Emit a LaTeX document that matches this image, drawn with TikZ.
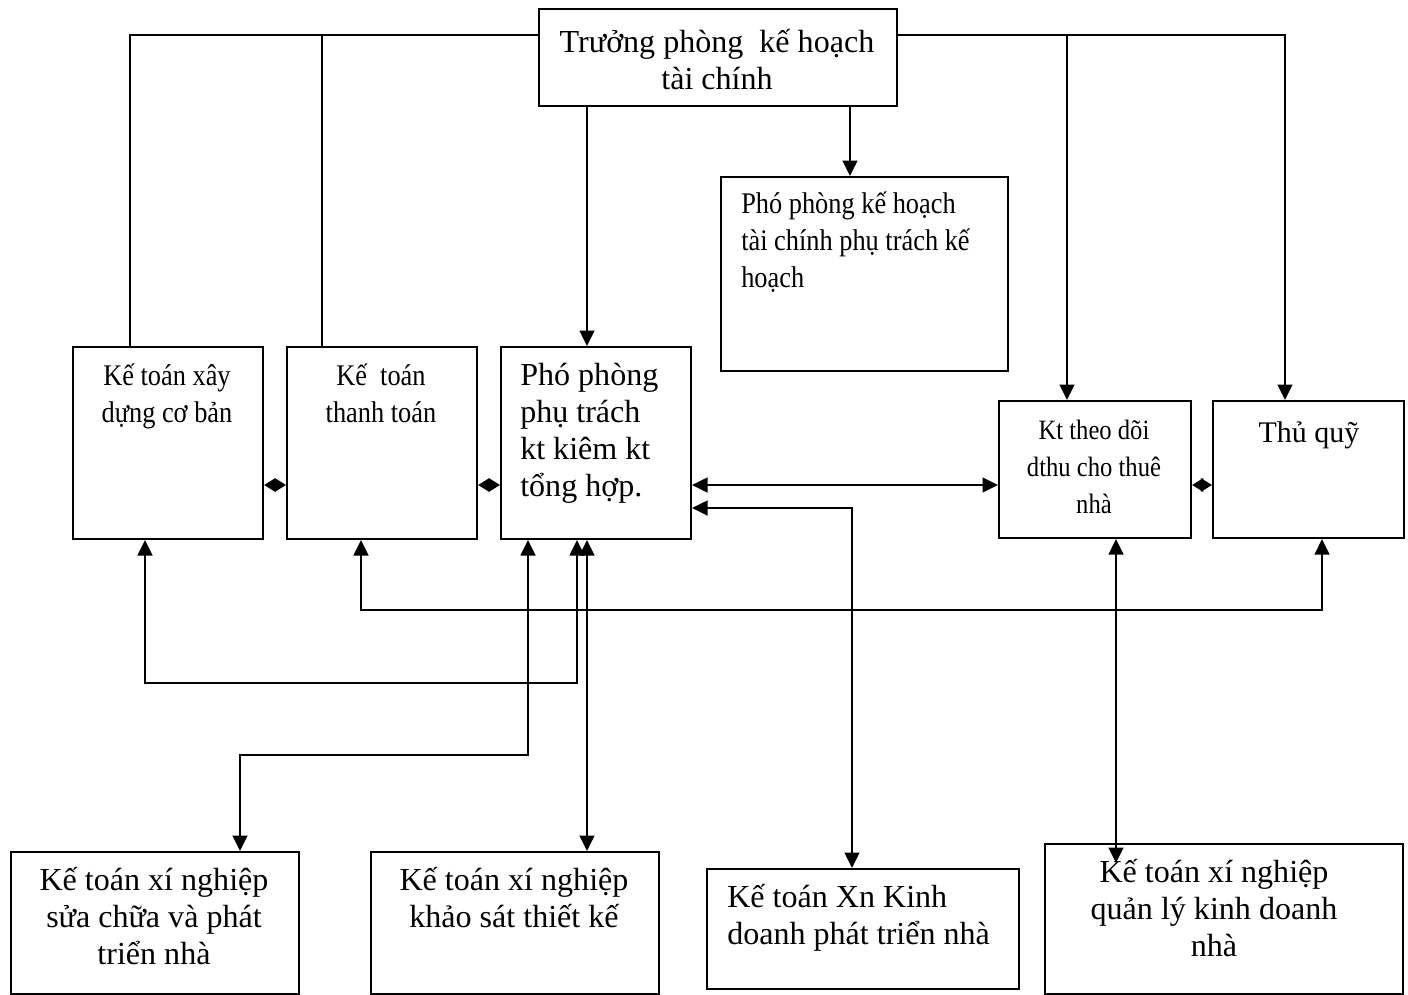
\documentclass[tikz,border=0pt]{standalone}
\usepackage{fontspec}
\setmainfont{Liberation Serif}
\newfontfamily\narrowfont[FakeStretch=0.88]{Liberation Serif}
\usetikzlibrary{arrows.meta}

\newcommand\pxu{0.025cm}

\tikzset{
  box/.style 2 args={draw, line width=1.5pt, rectangle, inner sep=0pt, anchor=north west,
    minimum width=#1*\pxu, minimum height=#2*\pxu},
  txt/.style={inner sep=0pt, align=center, anchor=base, font=\fontsize{22.8}{26.3}\selectfont},
  txtl/.style={inner sep=0pt, align=left, anchor=base west, font=\fontsize{22.8}{26.3}\selectfont},
  narrow/.style={font=\narrowfont\fontsize{21.3}{26.3}\selectfont},
  link/.style={line width=1.5pt},
  arr/.style={link, -{Triangle[length=11pt,width=10.5pt]}},
  dbl/.style={link, {Triangle[length=11pt,width=10.5pt]}-{Triangle[length=11pt,width=10.5pt]}},
  dblsm/.style={link, {Triangle[length=8pt,width=9.5pt]}-{Triangle[length=8pt,width=9.5pt]}}
}

\begin{document}
\begin{tikzpicture}[x=\pxu, y=-\pxu]

    \useasboundingbox (0,0) rectangle (1408,994);

    % boxes (text nodes sit on the baseline of their last line)
    \node[box={358}{97}] (head) at (538,8) {};
    \node[txt] (headtxt) at (717,89) {Trưởng phòng\ \ kế hoạch\\tài chính};

    \node[box={287}{194}] (pkh) at (720,176) {};
    \node[txtl, narrow] (pkhtxt) at (741,287) {Phó phòng kế hoạch\\tài chính phụ trách kế\\hoạch};

    \node[box={190}{192}] (xd) at (72,346) {};
    \node[txt, narrow] (xdtxt) at (167,422) {Kế toán xây\\dựng cơ bản};

    \node[box={190}{192}] (tt) at (286,346) {};
    \node[txt, narrow] (tttxt) at (381,422) {Kế\ \ toán\\thanh toán};

    \node[box={190}{192}] (pp) at (500,346) {};
    \node[txtl] (pptxt) at (520,496) {Phó phòng\\phụ trách\\kt kiêm kt\\tổng hợp.};

    \node[box={192}{137}] (ktd) at (998,400) {};
    \node[txt, narrow, font=\narrowfont\fontsize{19.9}{26}\selectfont] (ktdtxt) at (1094,513) {Kt theo dõi\\dthu cho thuê\\nhà};

    \node[box={191}{137}] (tq) at (1212,400) {};
    \node[txt, font=\fontsize{21.3}{26}\selectfont] (tqtxt) at (1309,442) {Thủ quỹ};

    \node[box={288}{142}] (sc) at (10,851) {};
    \node[txt] (sctxt) at (154,964) {Kế toán xí nghiệp\\sửa chữa và phát\\triển nhà};

    \node[box={288}{142}] (ks) at (370,851) {};
    \node[txt] (kstxt) at (514,927) {Kế toán xí nghiệp\\khảo sát thiết kế};

    \node[box={312}{120}] (xn) at (706,868) {};
    \node[txtl] (xntxt) at (727,944) {Kế toán Xn Kinh\\doanh phát triển nhà};

    \node[box={358}{150}] (ql) at (1044,843) {};
    \node[txt] (qltxt) at (1214,956) {Kế toán xí nghiệp\\quản lý kinh doanh\\nhà};

    % bends and columns
    \coordinate (hl) at (130,35);
    \coordinate (hm) at (322,35);
    \coordinate (hr1) at (1067,35);
    \coordinate (hr2) at (1285,35);
    \coordinate (c1) at (587,0);
    \coordinate (c2) at (850,0);
    \coordinate (m) at (0,485);
    \coordinate (r1) at (145,683);
    \coordinate (r2) at (577,683);
    \coordinate (s1) at (361,610);
    \coordinate (s2) at (1322,610);
    \coordinate (t1) at (528,755);
    \coordinate (t2) at (240,755);
    \coordinate (u1) at (852,508);
    \coordinate (qtip) at (1116,863);

    % from the head
    \draw[link] (head.west |- hl) -| (xd.north -| hl);
    \draw[link] (hm) -- (tt.north -| hm);
    \draw[arr] (head.south -| c1) -- (pp.north -| c1);
    \draw[arr] (head.south -| c2) -- (pkh.north -| c2);
    \draw[arr] (head.east |- hr2) -| (tq.north -| hr2);
    \draw[arr] (hr1) -- (ktd.north -| hr1);

    % side by side
    \draw[dblsm] (xd.east |- m) -- (tt.west |- m);
    \draw[dblsm] (tt.east |- m) -- (pp.west |- m);
    \draw[dblsm] (ktd.east |- m) -- (tq.west |- m);
    \draw[dbl] (pp.east |- m) -- (ktd.west |- m);

    % below
    \draw[dbl] (xd.south -| r1) -- (r1) -- (r2) -- (pp.south -| r2);
    \draw[dbl] (tt.south -| s1) -- (s1) -- (s2) -- (tq.south -| s2);
    \draw[dbl] (pp.south -| t1) -- (t1) -- (t2) -- (sc.north -| t2);
    \draw[dbl] (pp.south -| c1) -- (ks.north -| c1);
    \draw[dbl] (pp.east |- u1) -| (xn.north -| u1);
    \draw[dbl] (ktd.south -| qtip) -- (qtip);

\end{tikzpicture}
\end{document}
